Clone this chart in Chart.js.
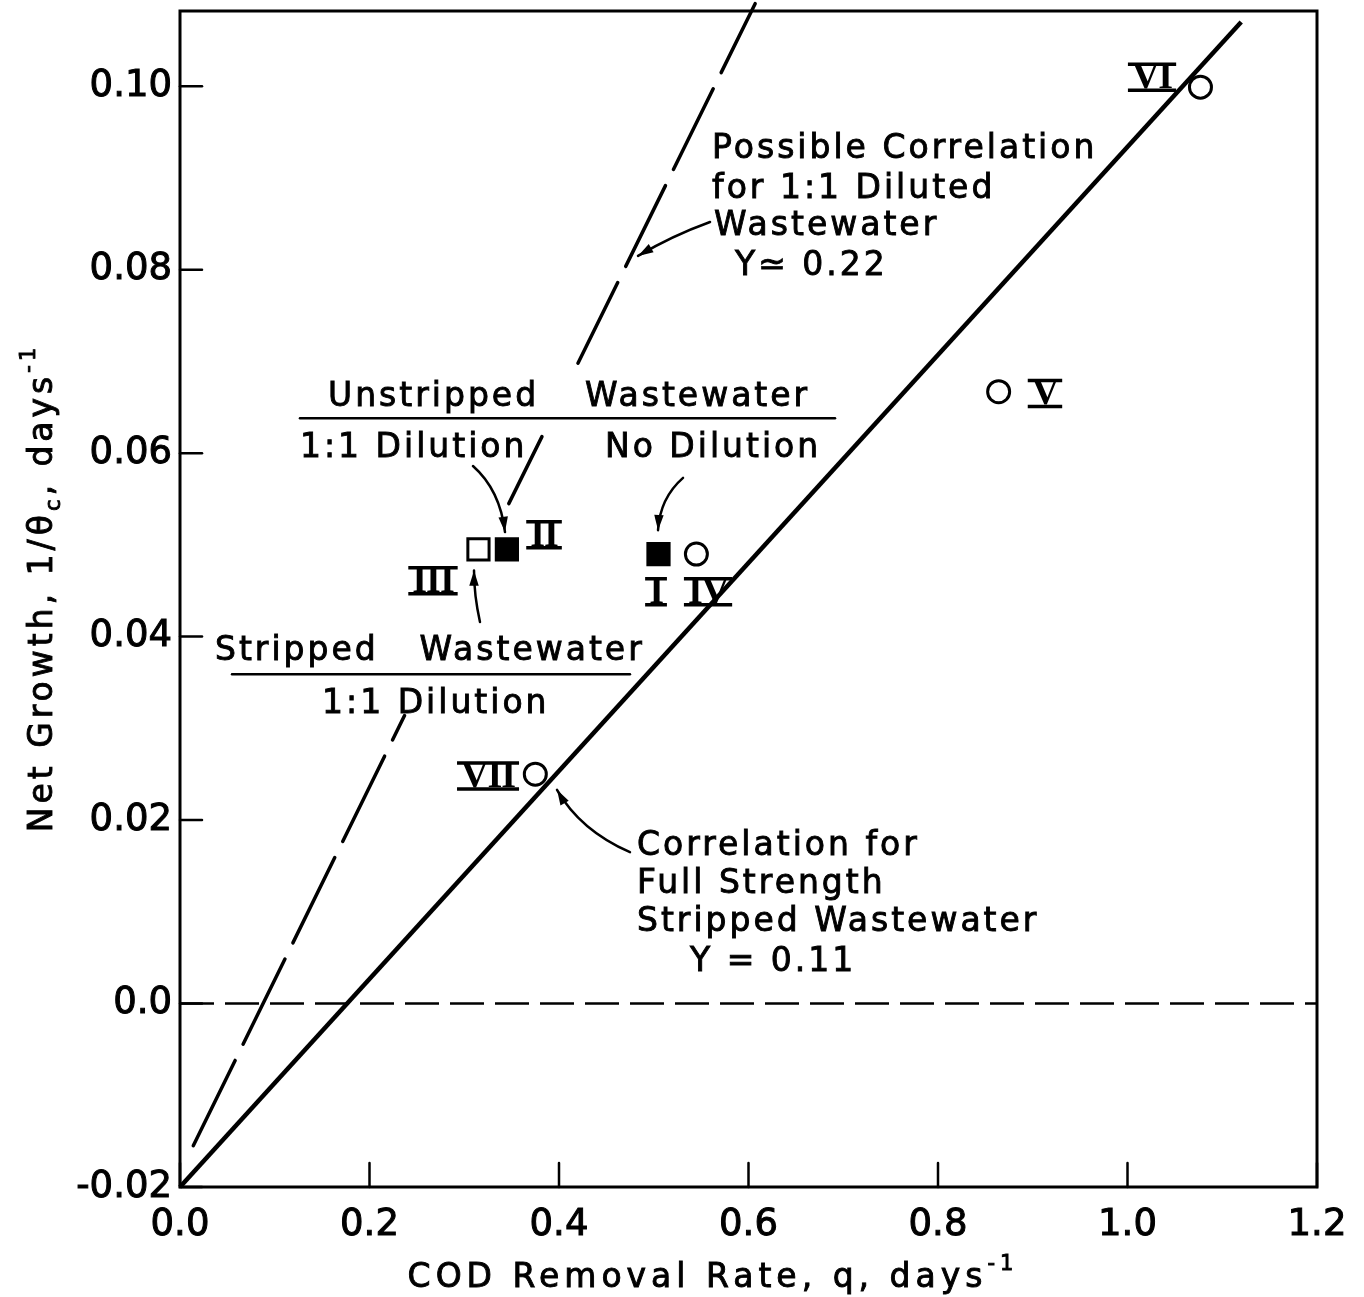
<!DOCTYPE html>
<html>
<head>
<meta charset="utf-8">
<script src="https://cdn.jsdelivr.net/npm/chart.js@4.4.1/dist/chart.umd.min.js"></script>
<style>
  html, body { margin: 0; padding: 0; background: #fff; }
  canvas { display: block; }
</style>
</head>
<body>
<canvas id="growthChart" width="1364" height="1297"></canvas>
<script>
// axis ticks
var xTicks = [0, 0.2, 0.4, 0.6, 0.8, 1.0, 1.2];
var xTickLabels = ['0.0', '0.2', '0.4', '0.6', '0.8', '1.0', '1.2'];
var yTicks = [-0.02, 0, 0.02, 0.04, 0.06, 0.08, 0.10];
var yTickLabels = ['-0.02', '0.0', '0.02', '0.04', '0.06', '0.08', '0.10'];

// stripped wastewater, 1:1 dilution (run III)
var openSquareQ = [0.315];
var openSquareG = [0.0495];
// unstripped wastewater (run II 1:1 dilution, run I no dilution)
var filledSquareQ = [0.345, 0.505];
var filledSquareG = [0.0495, 0.049];
// stripped wastewater, full strength (runs IV, V, VI, VII)
var circleQ = [0.545, 0.864, 1.077, 0.375];
var circleG = [0.049, 0.0667, 0.0999, 0.025];

// correlation, full strength stripped wastewater (Y = 0.11)
var fullFitQ = [0, 1.12];
var fullFitG = [-0.02, 0.107];
// possible correlation, 1:1 diluted wastewater (Y ~ 0.22), broken by the labels
var dilLowQ = [0.014, 0.237];
var dilLowG = [-0.0155, 0.0314];
var dilMidQ = [0.347, 0.382];
var dilMidG = [0.0545, 0.0618];
var dilHighQ = [0.42, 0.607];
var dilHighG = [0.0698, 0.109];
// zero growth
var zeroQ = [0, 1.2];
var zeroG = [0, 0];

function pts(xs, ys) {
  return xs.map(function (x, i) { return { x: x, y: ys[i] }; });
}

var TEXT_FONT = '"DejaVu Sans", sans-serif';

// text labels, placed in axis units (left edge, baseline)
var notes = [
  { t: 'Possible Correlation', q: 0.5615, g: 0.0922 },
  { t: 'for 1:1 Diluted', q: 0.5615, g: 0.0878 },
  { t: 'Wastewater', q: 0.5636, g: 0.0838 },
  { t: 'Y\u2243 0.22', q: 0.5858, g: 0.0794 },
  { t: 'Unstripped', q: 0.1562, g: 0.0651 },
  { t: 'Wastewater', q: 0.4274, g: 0.0651 },
  { t: '1:1 Dilution', q: 0.1266, g: 0.0596 },
  { t: 'No Dilution', q: 0.4485, g: 0.0596 },
  { t: 'Stripped', q: 0.0369, g: 0.0374 },
  { t: 'Wastewater', q: 0.2528, g: 0.0374 },
  { t: '1:1 Dilution', q: 0.1499, g: 0.0317 },
  { t: 'Correlation for', q: 0.4823, g: 0.0162 },
  { t: 'Full Strength', q: 0.4823, g: 0.0120 },
  { t: 'Stripped Wastewater', q: 0.4823, g: 0.0079 },
  { t: 'Y = 0.11', q: 0.5383, g: 0.0035 }
];
var rules = [
  { q0: 0.1266, q1: 0.6913, g: 0.0638 },
  { q0: 0.0549, q1: 0.4749, g: 0.0359 }
];
var runLabels = [
  { t: 'VI', q: 1.0259, g: 0.1011 },
  { t: 'V', q: 0.9129, g: 0.0666 },
  { t: 'IV', q: 0.5573, g: 0.0450 },
  { t: 'I', q: 0.5024, g: 0.0450 },
  { t: 'II', q: 0.3842, g: 0.0512 },
  { t: 'III', q: 0.2670, g: 0.0462 },
  { t: 'VII', q: 0.3251, g: 0.0249 }
];
var arrows = [
  { a: [0.5594, 0.0852], c: [0.5193, 0.0837], b: [0.4834, 0.0815] },
  { a: [0.3092, 0.0586], c: [0.3377, 0.0560], b: [0.3430, 0.0514] },
  { a: [0.5309, 0.0573], c: [0.5066, 0.0551], b: [0.5045, 0.0516] },
  { a: [0.3166, 0.0416], c: [0.3103, 0.0445], b: [0.3103, 0.0472] },
  { a: [0.4749, 0.0165], c: [0.4222, 0.0189], b: [0.3979, 0.0233] }
];

// text pieces with sub/superscripts, drawn from x along baseline y
function richWidth(ctx, parts, size) {
  var w = 0;
  parts.forEach(function (p) {
    ctx.font = (p.sup || p.sub ? Math.round(size * 0.65) : size) + 'px ' + TEXT_FONT;
    w += ctx.measureText(p.t).width;
  });
  return w;
}
function richDraw(ctx, parts, size, x, y) {
  parts.forEach(function (p) {
    var s = p.sup || p.sub ? Math.round(size * 0.65) : size;
    ctx.font = s + 'px ' + TEXT_FONT;
    var dy = p.sup ? -size * 0.52 : (p.sub ? size * 0.25 : 0);
    ctx.fillText(p.t, x, y + dy);
    ctx.strokeText(p.t, x, y + dy);
    x += ctx.measureText(p.t).width;
  });
}

var decorations = {
  id: 'decorations',
  afterDraw: function (chart) {
    var ctx = chart.ctx;
    var xs = chart.scales.x, ys = chart.scales.y;
    var area = chart.chartArea;
    function X(q) { return xs.getPixelForValue(q); }
    function Y(g) { return ys.getPixelForValue(g); }

    ctx.save();
    ctx.strokeStyle = '#000';
    ctx.fillStyle = '#000';
    ctx.lineCap = 'round';

    // frame
    ctx.lineWidth = 3;
    ctx.strokeRect(area.left, area.top, area.right - area.left, area.bottom - area.top);

    // inward tick marks
    ctx.lineWidth = 2.5;
    yTicks.forEach(function (v) {
      ctx.beginPath();
      ctx.moveTo(area.left, Y(v));
      ctx.lineTo(area.left + 22, Y(v));
      ctx.stroke();
    });
    xTicks.forEach(function (v) {
      ctx.beginPath();
      ctx.moveTo(X(v), area.bottom);
      ctx.lineTo(X(v), area.bottom - 24);
      ctx.stroke();
    });

    // notes
    ctx.font = '33px ' + TEXT_FONT;
    ctx.letterSpacing = '3px';
    ctx.textAlign = 'left';
    ctx.textBaseline = 'alphabetic';
    ctx.lineWidth = 0.9;
    notes.forEach(function (n) {
      ctx.fillText(n.t, X(n.q), Y(n.g));
      ctx.strokeText(n.t, X(n.q), Y(n.g));
    });
    ctx.letterSpacing = '0px';

    ctx.lineWidth = 2.5;
    rules.forEach(function (r) {
      ctx.beginPath();
      ctx.moveTo(X(r.q0), Y(r.g));
      ctx.lineTo(X(r.q1), Y(r.g));
      ctx.stroke();
    });

    // run numbers, roman numerals with bars above and below
    ctx.font = 'bold 38px "Liberation Serif", serif';
    ctx.textAlign = 'center';
    ctx.textBaseline = 'middle';
    ctx.letterSpacing = '-1px';
    runLabels.forEach(function (r) {
      var cx = X(r.q), cy = Y(r.g);
      ctx.fillText(r.t, cx, cy + 2);
      var w = ctx.measureText(r.t).width + 8;
      ctx.lineWidth = 3.5;
      ctx.lineCap = 'butt';
      ctx.beginPath();
      ctx.moveTo(cx - w / 2, cy - 12);
      ctx.lineTo(cx + w / 2, cy - 12);
      ctx.moveTo(cx - w / 2, cy + 14);
      ctx.lineTo(cx + w / 2, cy + 14);
      ctx.stroke();
      ctx.lineCap = 'round';
    });
    ctx.letterSpacing = '0px';

    // pointer arrows
    ctx.lineWidth = 2.5;
    arrows.forEach(function (a) {
      var ax = X(a.a[0]), ay = Y(a.a[1]);
      var cx = X(a.c[0]), cy = Y(a.c[1]);
      var bx = X(a.b[0]), by = Y(a.b[1]);
      ctx.beginPath();
      ctx.moveTo(ax, ay);
      ctx.quadraticCurveTo(cx, cy, bx, by);
      ctx.stroke();
      var ang = Math.atan2(by - cy, bx - cx);
      ctx.beginPath();
      ctx.moveTo(bx, by);
      ctx.lineTo(bx - 16 * Math.cos(ang - 0.3), by - 16 * Math.sin(ang - 0.3));
      ctx.lineTo(bx - 16 * Math.cos(ang + 0.3), by - 16 * Math.sin(ang + 0.3));
      ctx.closePath();
      ctx.fill();
    });

    // axis titles
    ctx.textAlign = 'left';
    ctx.textBaseline = 'alphabetic';
    ctx.letterSpacing = '5px';
    ctx.lineWidth = 0.9;
    var xTitle = [{ t: 'COD Removal Rate, q, days' }, { t: '-1', sup: true }];
    var wx = richWidth(ctx, xTitle, 33);
    richDraw(ctx, xTitle, 33, 713 - wx / 2, 1287);

    ctx.letterSpacing = '4px';
    var yTitle = [{ t: 'Net Growth, 1/\u03b8' }, { t: 'c', sub: true }, { t: ', days' }, { t: '-1', sup: true }];
    var wy = richWidth(ctx, yTitle, 33);
    ctx.translate(52, 588);
    ctx.rotate(-Math.PI / 2);
    richDraw(ctx, yTitle, 33, -wy / 2, 0);
    ctx.restore();
  }
};

function noEdgePadding(s) {
  s.paddingTop = 0;
  s.paddingBottom = 0;
  s.paddingLeft = 0;
  s.paddingRight = 0;
}

new Chart(document.getElementById('growthChart'), {
  type: 'scatter',
  data: {
    datasets: [
      {
        data: pts(zeroQ, zeroG), showLine: true, pointRadius: 0,
        borderColor: '#000', borderWidth: 2.5, borderDash: [34, 11]
      },
      {
        data: pts(fullFitQ, fullFitG), showLine: true, pointRadius: 0,
        borderColor: '#000', borderWidth: 4.5, clip: false
      },
      {
        data: pts(dilLowQ, dilLowG), showLine: true, pointRadius: 0,
        borderColor: '#000', borderWidth: 3.5, borderDash: [95, 18], borderCapStyle: 'round'
      },
      {
        data: pts(dilMidQ, dilMidG), showLine: true, pointRadius: 0,
        borderColor: '#000', borderWidth: 3.5, borderCapStyle: 'round'
      },
      {
        data: pts(dilHighQ, dilHighG), showLine: true, pointRadius: 0,
        borderColor: '#000', borderWidth: 3.5, borderDash: [90, 18], borderCapStyle: 'round', clip: false
      },
      {
        data: pts(openSquareQ, openSquareG), pointStyle: 'rect', pointRadius: 15,
        backgroundColor: '#fff', borderColor: '#000', borderWidth: 3
      },
      {
        data: pts(filledSquareQ, filledSquareG), pointStyle: 'rect', pointRadius: 15,
        backgroundColor: '#000', borderColor: '#000', borderWidth: 3
      },
      {
        data: pts(circleQ, circleG), pointStyle: 'circle', pointRadius: 11,
        backgroundColor: '#fff', borderColor: '#000', borderWidth: 3
      }
    ]
  },
  options: {
    responsive: false,
    animation: false,
    events: [],
    layout: { autoPadding: false, padding: { top: 11, right: 47, left: 0, bottom: 0 } },
    plugins: {
      legend: { display: false },
      tooltip: { enabled: false }
    },
    scales: {
      x: {
        type: 'linear',
        min: 0,
        max: 1.2,
        afterBuildTicks: function (s) { s.ticks = xTicks.map(function (v) { return { value: v }; }); },
        afterFit: function (s) { s.height = 110; noEdgePadding(s); },
        grid: { display: false, drawTicks: false },
        border: { display: false },
        ticks: {
          padding: 16,
          maxRotation: 0,
          color: '#000',
          textStrokeColor: '#000',
          textStrokeWidth: 1,
          font: { family: 'DejaVu Sans', size: 37 },
          callback: function (v, i) { return xTickLabels[i]; }
        }
      },
      y: {
        type: 'linear',
        min: -0.02,
        max: 0.1082,
        afterBuildTicks: function (s) { s.ticks = yTicks.map(function (v) { return { value: v }; }); },
        afterFit: function (s) { s.width = 180; noEdgePadding(s); },
        grid: { display: false, drawTicks: false },
        border: { display: false },
        ticks: {
          padding: 8,
          color: '#000',
          textStrokeColor: '#000',
          textStrokeWidth: 1,
          font: { family: 'DejaVu Sans', size: 37 },
          callback: function (v, i) { return yTickLabels[i]; }
        }
      }
    }
  },
  plugins: [decorations]
});
</script>
</body>
</html>
